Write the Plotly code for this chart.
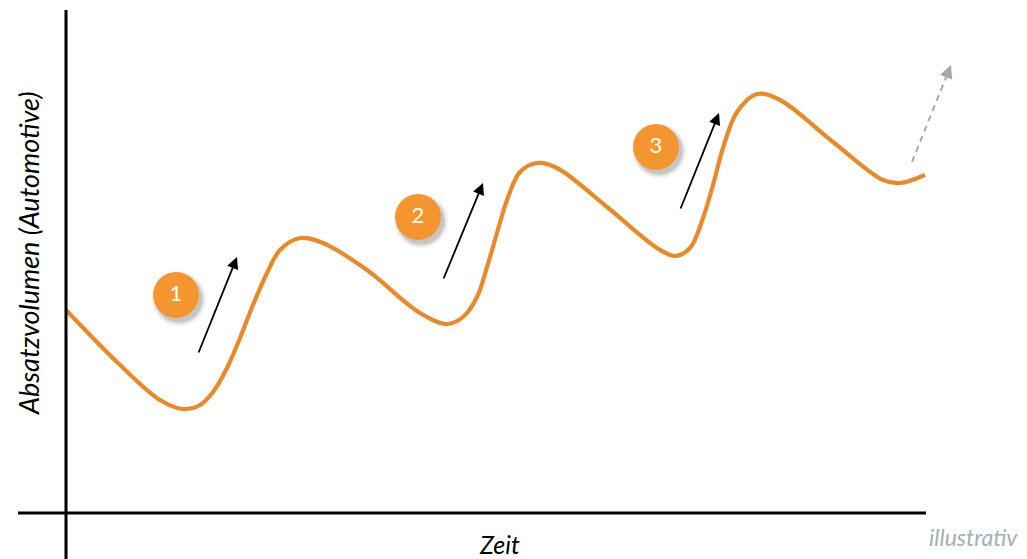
import plotly.graph_objects as go

# Illustrative sales-volume curve (time origin at y-axis, volume origin at x-axis)
zeit = [0, 52, 94, 117, 134, 147, 161, 174, 187, 201, 214, 234, 257, 301,
        354, 381, 397, 411, 421, 431, 441, 454, 471, 491, 541,
        591, 609, 624, 637, 647, 657, 671, 691, 714, 767, 817, 834, 859]
absatz = [203, 150, 113, 104, 108, 121, 145, 175, 208, 240, 263, 275, 270, 243,
          200, 189, 196, 216, 246, 280, 313, 341, 350, 345, 306,
          265, 257, 265, 295, 328, 365, 401, 419, 413, 371, 333, 330, 338]

# Growth phases: badge positions, labels and arrow (tail -> tip)
badge_labels = ["1", "2", "3"]
badge_x = [110, 352, 590]
badge_y = [218, 296, 366]
arrow_tail_x = [132, 377, 614]
arrow_tail_y = [159, 233, 303]
arrow_tip_x = [171, 417, 653]
arrow_tip_y = [256, 330, 400]

# Outlook arrow (dashed)
outlook_tail = (846, 351)
outlook_tip = (885, 448)

ORANGE = "#E8892A"
BADGE = "#F5952F"
FONT = "Lato"

fig = go.Figure()

# axes drawn as lines
fig.add_shape(type="line", x0=-48, x1=860, y0=0, y1=0, line=dict(color="black", width=3))
fig.add_shape(type="line", x0=0, x1=0, y0=-50, y1=503, line=dict(color="black", width=3))

fig.add_trace(go.Scatter(x=zeit, y=absatz, mode="lines",
                         line=dict(color=ORANGE, width=4.2, shape="spline", smoothing=1.0),
                         hoverinfo="skip", showlegend=False))

# dashed outlook line
ux = outlook_tip[0] - outlook_tail[0]
uy = outlook_tip[1] - outlook_tail[1]
L = (ux ** 2 + uy ** 2) ** 0.5
hx = outlook_tip[0] - ux / L * 12
hy = outlook_tip[1] - uy / L * 12
fig.add_trace(go.Scatter(x=[outlook_tail[0], hx], y=[outlook_tail[1], hy], mode="lines",
                         line=dict(color="#A6A6A6", width=2, dash="6px,5px"),
                         hoverinfo="skip", showlegend=False))
fig.add_annotation(x=outlook_tip[0], y=outlook_tip[1], ax=hx - ux / L * 2, ay=hy - uy / L * 2,
                   xref="x", yref="y", axref="x", ayref="y", showarrow=True, text="",
                   arrowhead=2, arrowsize=1.3, arrowwidth=2, arrowcolor="#A6A6A6")

# black growth arrows
for tx, ty, hx_, hy_ in zip(arrow_tail_x, arrow_tail_y, arrow_tip_x, arrow_tip_y):
    fig.add_annotation(x=hx_, y=hy_, ax=tx, ay=ty, xref="x", yref="y", axref="x", ayref="y",
                       showarrow=True, text="", arrowhead=2, arrowsize=1.3, arrowwidth=1.8,
                       arrowcolor="black")

# badge shadows
for s, a in [(54, 0.06), (50, 0.08), (47, 0.10)]:
    fig.add_trace(go.Scatter(x=[v + 3 for v in badge_x], y=[v - 4 for v in badge_y],
                             mode="markers", marker=dict(size=s, color=f"rgba(0,0,0,{a})", line=dict(width=0)),
                             hoverinfo="skip", showlegend=False))
fig.add_trace(go.Scatter(x=badge_x, y=badge_y, mode="markers+text", text=badge_labels,
                         textposition="middle center",
                         textfont=dict(family=FONT, size=22, color="white"),
                         marker=dict(size=46, color=BADGE, line=dict(width=0)),
                         hoverinfo="skip", showlegend=False))

# labels
fig.add_annotation(x=-38, y=259, xref="x", yref="y", text="<i>Absatzvolumen (Automotive)</i>",
                   showarrow=False, textangle=-90,
                   font=dict(family=FONT, size=27, color="black"))
fig.add_annotation(x=433, y=-31, xref="x", yref="y", text="<i>Zeit</i>", showarrow=False,
                   font=dict(family=FONT, size=25, color="black"))
fig.add_annotation(x=861, y=-24, xref="x", yref="y", xanchor="left",
                   text="<i>illustrativ</i>", showarrow=False,
                   font=dict(family=FONT, size=23, color="#A3AEB4"))

fig.update_layout(
    width=1027, height=559, margin=dict(l=0, r=0, t=0, b=0),
    paper_bgcolor="white", plot_bgcolor="white",
    xaxis=dict(range=[-66, 961], visible=False, fixedrange=True),
    yaxis=dict(range=[-46, 513], visible=False, fixedrange=True),
    showlegend=False,
)

fig.write_html("out.html", config={"displayModeBar": False})
